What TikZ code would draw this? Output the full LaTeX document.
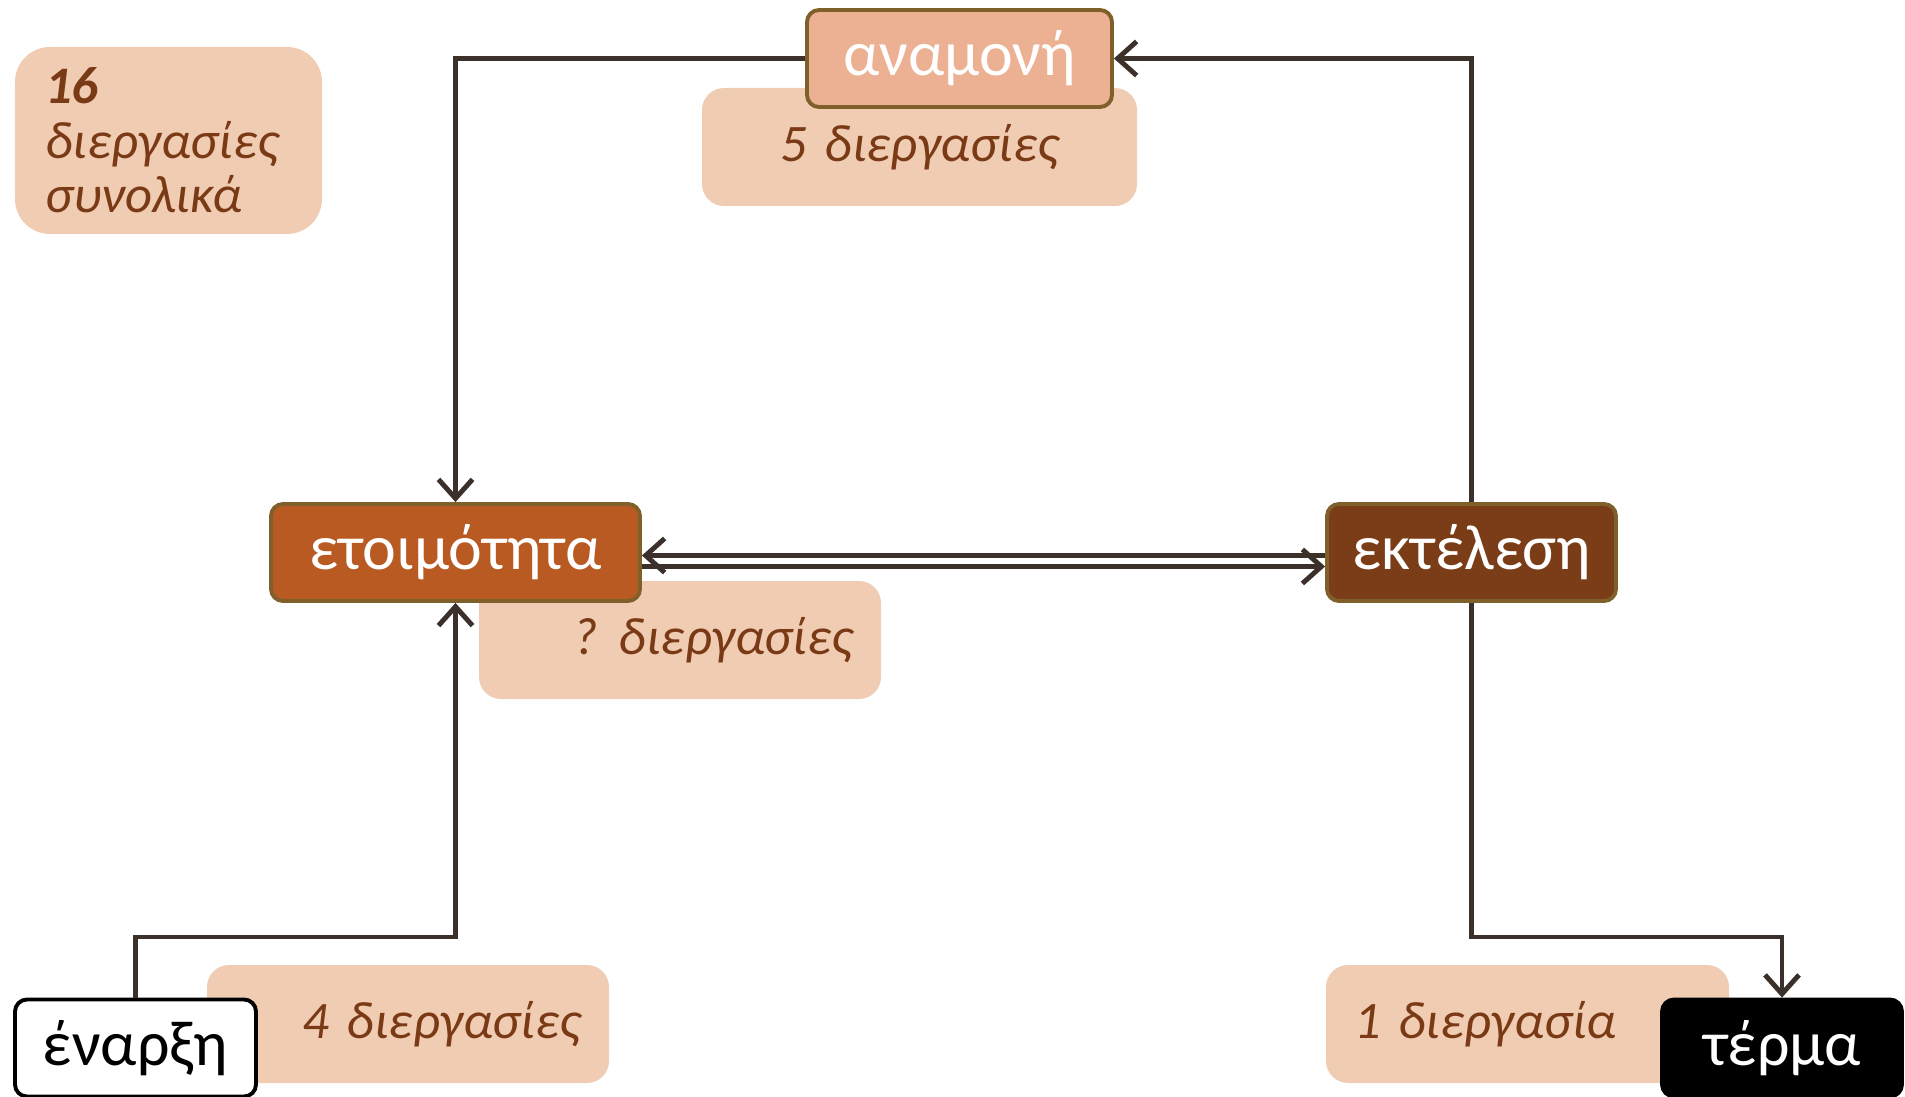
\documentclass[tikz,border=0pt]{standalone}
\usepackage{fontspec}
\setmainfont{Carlito}
\usetikzlibrary{arrows.meta}

\definecolor{tagfill}{HTML}{F0CCB3}
\definecolor{tagtext}{HTML}{7A3A15}
\definecolor{rim}{HTML}{7F5F2A}
\definecolor{waitfill}{HTML}{EBB192}
\definecolor{readyfill}{HTML}{B85A22}
\definecolor{runfill}{HTML}{7B3D18}
\definecolor{wire}{HTML}{3B302A}

\tikzstyle{stage}=[rectangle,rounded corners=0.12cm,draw=rim,line width=1.1pt,minimum height=0.97cm,text=white,font=\fontsize{18.2}{22}\selectfont]
\tikzstyle{tag}=[rectangle,rounded corners=0.22cm,fill=tagfill,minimum height=1.18cm,inner xsep=0.28cm,text=tagtext,font=\fontsize{15}{18}\selectfont\itshape]
\tikzstyle{link}=[draw=wire,line width=1.4pt,-{Straight Barb[length=1.9mm,width=3.4mm]}]

\begin{document}
\begin{tikzpicture}
    \useasboundingbox (0,0) rectangle (19.05,10.96);

    \node (total) at (1.685, 9.555) [tag,rounded corners=0.35cm,minimum height=1.87cm,text width=2.47cm,align=left,inner xsep=0.30cm,font=\fontsize{15}{15.5}\selectfont\itshape] {\textbf{16}\\διεργασίες\\συνολικά};

    \node (waitnote)  at (9.195,  9.49) [tag,text width=3.79cm,align=center] {5 διεργασίες};
    \node (readynote) at (6.80,   4.56) [tag,text width=3.46cm,align=right] {?\hspace{0.21cm}διεργασίες};
    \node (startnote) at (4.08,   0.72) [tag,text width=3.46cm,align=right] {4 διεργασίες};
    \node (runnote)   at (15.275, 0.72) [tag,text width=3.47cm,align=left] {1 διεργασία};

    \node (wait)  at (9.595,  10.375) [stage,fill=waitfill,minimum width=3.05cm] {αναμονή};
    \node (ready) at (4.555,  5.435)  [stage,fill=readyfill,minimum width=3.69cm] {ετοιμότητα};
    \node (run)   at (14.715, 5.435)  [stage,fill=runfill,minimum width=2.89cm] {εκτέλεση};
    \node (start) at (1.355,  0.48)   [stage,draw=black,fill=white,text=black,minimum width=2.41cm] {έναρξη};
    \node (end)   at (17.82,  0.48)   [stage,draw=black,fill=black,minimum width=2.40cm] {τέρμα};

    \draw (wait.west) -| (ready.north) [link];
    \draw (run.north) |- (wait.east) [link];

    \draw ([yshift=-0.03cm]run.west) -- ([yshift=-0.03cm]ready.east) [link];
    \draw ([yshift=-0.14cm]ready.east) -- ([yshift=-0.14cm]run.west) [link];

    \draw (start.north) |- (2.5, 1.59) -| (ready.south) [link];
    \draw (run.south) |- (16, 1.59) -| (end.north) [link];
  \end{tikzpicture}
\end{document}
